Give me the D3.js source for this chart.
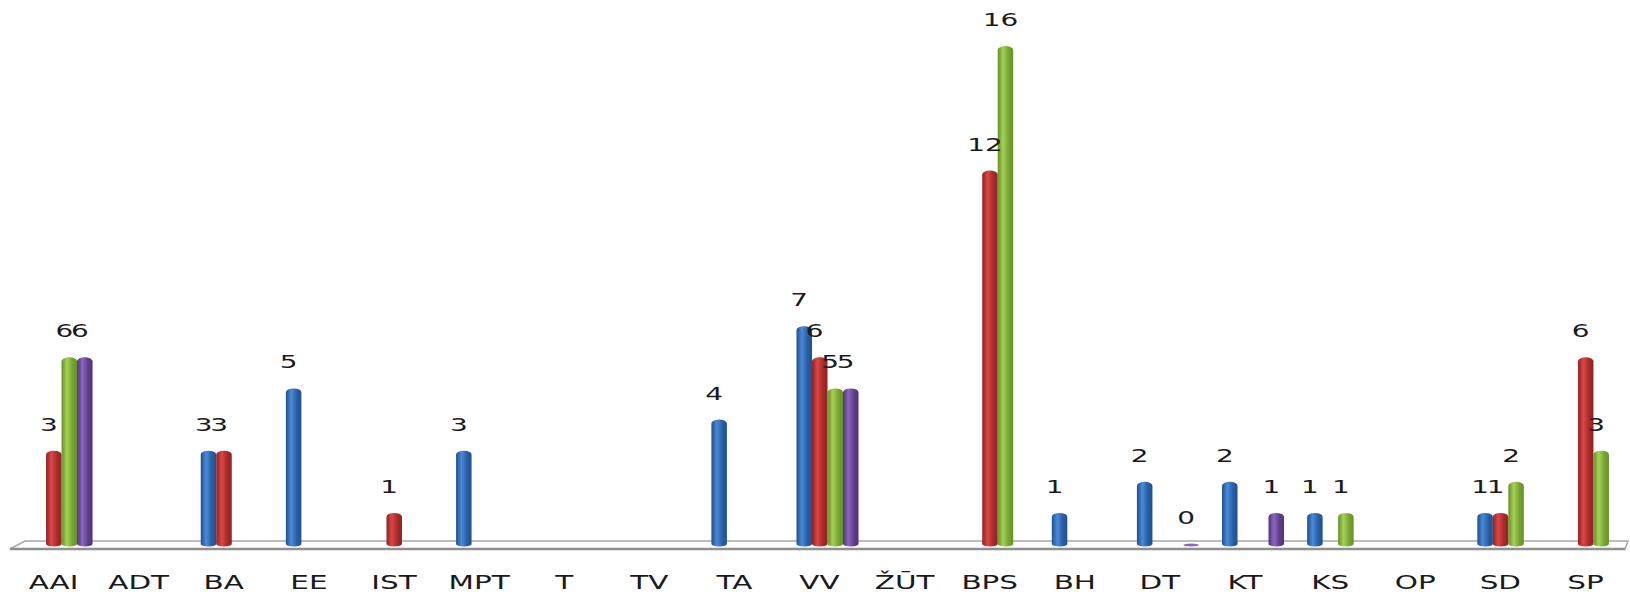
<!DOCTYPE html>
<html lang="en">
<head>
<meta charset="utf-8">
<style type="text/css">
    body { margin: 0; background: #fff; }
    .cat_text { font-family: "DejaVu Sans", sans-serif; font-size: 19px; fill: #1a1a1a; }
    .val_text { font-family: "DejaVu Sans", sans-serif; font-size: 18px; fill: #1a1a1a; }
</style>
</head>
<body>
<div id="graph"></div>
<script src="https://cdn.jsdelivr.net/npm/d3@7"></script>
<script type="text/javascript">
    var width = 1630, height = 595;

    var categories = ["AAI", "ADT", "BA", "EE", "IST", "MPT", "T", "TV", "TA", "VV", "ŽŪT", "BPS", "BH", "DT", "KT", "KS", "OP", "SD", "SP"];
    var blueVals   = [null, null, 3, 5, null, 3, null, null, 4, 7, null, null, 1, 2, 2, 1, null, 1, null];
    var redVals    = [3, null, 3, null, 1, null, null, null, null, 6, null, 12, null, null, null, null, null, 1, 6];
    var greenVals  = [6, null, null, null, null, null, null, null, null, 5, null, 16, null, null, null, 1, null, 2, 3];
    var purpleVals = [6, null, null, null, null, null, null, null, null, 5, null, null, null, 0, 1, null, null, null, null];

    var seriesKeys = ["blue", "red", "green", "purple"];
    var seriesVals = [blueVals, redVals, greenVals, purpleVals];
    // edge, highlight colours for the cylinder shading
    var shades = {
        blue:   ["#1f4f8e", "#4a8ad8", "#2a5fa6"],
        red:    ["#8f2222", "#dc4646", "#a92b2b"],
        green:  ["#678f26", "#a6d158", "#77a531"],
        purple: ["#4f3378", "#8c66bd", "#5e3f8c"]
    };

    var svg = d3.select("#graph").append("svg")
        .attr("width", width)
        .attr("height", height);

    var defs = svg.append("defs");
    seriesKeys.forEach(function(k) {
        var g = defs.append("linearGradient")
            .attr("id", "grad_" + k)
            .attr("x1", "0%").attr("x2", "100%")
            .attr("y1", "0%").attr("y2", "0%");
        g.append("stop").attr("offset", "0%").attr("stop-color", shades[k][0]);
        g.append("stop").attr("offset", "35%").attr("stop-color", shades[k][1]);
        g.append("stop").attr("offset", "70%").attr("stop-color", shades[k][2]);
        g.append("stop").attr("offset", "100%").attr("stop-color", shades[k][0]);
    });

    var x = d3.scaleBand().domain(categories).range([11, 1628]);
    var x1 = d3.scaleBand().domain(seriesKeys).range([0, 62]);
    var y = d3.scaleLinear().domain([0, 16]).range([544, 46]);
    var depthShift = 8;

    // floor
    var fl = 10, fr = 1625, fTop = 541, fBot = 549;
    svg.append("path")
        .attr("d", "M" + fl + "," + fBot + " L" + (fl + 15) + "," + fTop + " L" + (fr + 3) + "," + fTop +
                   " L" + fr + "," + fBot + " Z")
        .attr("fill", "#fff")
        .attr("stroke", "#a8a8a8")
        .attr("stroke-width", 1.5);
    svg.append("line")
        .attr("x1", fl).attr("x2", fr)
        .attr("y1", fBot).attr("y2", fBot)
        .attr("stroke", "#8f8f8f")
        .attr("stroke-width", 2.5);

    var bars = [];
    categories.forEach(function(c, i) {
        seriesKeys.forEach(function(k, j) {
            var v = seriesVals[j][i];
            if (v === null) return;
            bars.push({cat: c, key: k, value: v});
        });
    });

    function barX(d) {
        return x(d.cat) + x.bandwidth() / 2 + depthShift - 31 + x1(d.key);
    }

    var bw = x1.bandwidth();
    var ry = 4;

    svg.selectAll(".bar")
        .data(bars.filter(function(d) { return d.value > 0; }))
        .enter()
        .append("path")
        .attr("class", "bar")
        .attr("d", function(d) {
            var x0 = barX(d), xr = x0 + bw, yt = y(d.value) + ry, yb = y(0);
            return "M" + x0 + "," + yt +
                " A" + (bw / 2) + "," + ry + " 0 0 1 " + xr + "," + yt +
                " L" + xr + "," + yb +
                " A" + (bw / 2) + "," + 2.5 + " 0 0 1 " + x0 + "," + yb + " Z";
        })
        .attr("fill", function(d) { return "url(#grad_" + d.key + ")"; });

    // zero-height bars show only as a flat disc
    svg.selectAll(".zero")
        .data(bars.filter(function(d) { return d.value === 0; }))
        .enter()
        .append("ellipse")
        .attr("class", "zero")
        .attr("cx", function(d) { return barX(d) + bw / 2; })
        .attr("cy", y(0) + 1)
        .attr("rx", bw / 2)
        .attr("ry", 1.5)
        .attr("fill", function(d) { return shades[d.key][1]; });

    svg.selectAll(".val_text")
        .data(bars)
        .enter()
        .append("text")
        .attr("class", "val_text")
        .attr("text-anchor", "middle")
        .attr("transform", function(d) {
            return "translate(" + (barX(d) + bw / 2 - 5) + "," + (y(d.value) - 20) + ") scale(1.55,1)";
        })
        .text(function(d) { return d.value; });

    svg.selectAll(".cat_text")
        .data(categories)
        .enter()
        .append("text")
        .attr("class", "cat_text")
        .attr("text-anchor", "middle")
        .attr("transform", function(d) {
            return "translate(" + (x(d) + x.bandwidth() / 2) + ",589) scale(1.55,1)";
        })
        .text(function(d) { return d; });
</script>
</body>
</html>
